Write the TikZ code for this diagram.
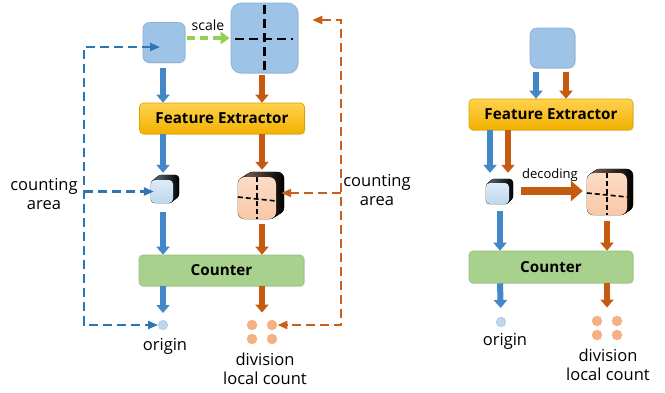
\documentclass[tikz,border=0pt]{standalone}
\usepackage{fontspec}
\setmainfont{Open Sans}
\usetikzlibrary{arrows.meta,calc,shadows}
\pgfdeclarelayer{background}
\pgfsetlayers{background,main}
\definecolor{sqblue}{HTML}{9DC3E6}
\definecolor{sqborder}{HTML}{8AAFD6}
\definecolor{arrblue}{HTML}{4287C8}
\definecolor{arrorange}{HTML}{C55A11}
\definecolor{dashblue}{HTML}{2E75B6}
\definecolor{dashorange}{HTML}{C9601A}
\definecolor{dashgreen}{HTML}{92D050}
\definecolor{feTop}{HTML}{FFD24D}
\definecolor{feBot}{HTML}{F2B100}
\definecolor{feBorder}{HTML}{D9A300}
\definecolor{cntFill}{HTML}{A9D18E}
\definecolor{cntBorder}{HTML}{93BF76}
\definecolor{cubeBlueTop}{HTML}{DEEBF7}
\definecolor{cubeBlue}{HTML}{BDD7EE}
\definecolor{peachTop}{HTML}{FBDCC6}
\definecolor{peach}{HTML}{F8C8A6}
\definecolor{dotBlue}{HTML}{BDD7EE}
\definecolor{dotOrange}{HTML}{F4B183}
\newcommand{\extrude}[5]{% node, dx, dy, radius, side colour
  \begin{pgfonlayer}{background}
  \foreach \k in {0,0.1,...,1.01} {
    \fill[rounded corners=#4, left color=#5!45!black, right color=black]
      ($(#1.south west)+(\k*#2,\k*#3)$) rectangle ($(#1.north east)+(\k*#2,\k*#3)$);
  }
  \end{pgfonlayer}}
\begin{document}
\begin{tikzpicture}[x=1pt,y=-1pt,
  txt/.style={font=\fontsize{16.5}{18.5}\selectfont, inner sep=0pt, align=center},
  smalltxt/.style={font=\fontsize{13}{15}\selectfont, inner sep=0pt},
  sqbox/.style={draw=sqborder, fill=sqblue, line width=0.6pt, inner sep=0pt,
    drop shadow={opacity=0.2, shadow xshift=0.8pt, shadow yshift=-1.2pt}},
  bigbox/.style={rounded corners=4pt, inner sep=0pt, minimum width=165pt, minimum height=31pt,
    font=\fontsize{15.2}{18}\selectfont\bfseries, line width=0.6pt,
    drop shadow={opacity=0.2, shadow xshift=0.8pt, shadow yshift=-1.2pt}},
  febox/.style={bigbox, draw=feBorder, top color=feTop, bottom color=feBot},
  cntbox/.style={bigbox, draw=cntBorder, fill=cntFill},
  cubeblue/.style={draw=none, top color=cubeBlueTop, bottom color=cubeBlue, inner sep=0pt, rounded corners=4pt},
  cubepeach/.style={draw=none, top color=peachTop, bottom color=peach, inner sep=0pt, rounded corners=7pt},
  cross/.style={draw=black, line width=2.2pt, dash pattern=on 9pt off 5pt},
  smallcross/.style={draw=black, line width=1.6pt, dash pattern=on 5pt off 3pt},
  bdot/.style={circle, fill=dotBlue, draw=sqblue, line width=0.5pt, minimum size=9.5pt, inner sep=0pt},
  odot/.style={circle, fill=dotOrange, draw=none, minimum size=10.5pt, inner sep=0pt},
  barrow/.style={draw=arrblue, line width=6pt, -{Triangle[length=8pt,width=13pt]}},
  oarrow/.style={draw=arrorange, line width=6pt, -{Triangle[length=8pt,width=13pt]}},
  dtip/.tip={Triangle[length=10pt,width=8pt]},
  bdash/.style={draw=dashblue, line width=2.2pt, dash pattern=on 9pt off 5pt},
  odash/.style={draw=dashorange, line width=2.2pt, dash pattern=on 9pt off 5pt},
]
\useasboundingbox (0,0) rectangle (665,392);

% ---------------- left diagram ----------------
\node[sqbox, rounded corners=6pt, minimum width=42pt, minimum height=40pt] (sq1) at (164,42.5) {};
\node[sqbox, rounded corners=10pt, minimum width=67pt, minimum height=70pt] (sq2) at (264.5,38) {};
\draw[cross, shorten <=2pt, shorten >=0pt] (sq2.north) -- (sq2.south);
\draw[cross, shorten <=4pt, shorten >=5pt] ($(sq2.west)+(0,1)$) -- ($(sq2.east)+(0,1)$);

\node[febox] (fe1) at (222,118.5) {Feature Extractor};

\node[cubeblue, minimum width=22pt, minimum height=23pt] (c1) at (162,191.5) {};
\extrude{c1}{6}{-5}{4pt}{cubeBlue}
\node[cubepeach, minimum width=38pt, minimum height=42pt] (c2) at (257,198) {};
\extrude{c2}{8}{-5}{7pt}{peach}
\draw[smallcross] (c2.north) -- (c2.south);
\draw[smallcross] ($(c2.west)+(0,-1)$) -- ($(c2.east)+(0,3)$);

\node[cntbox] (cnt1) at (221.5,270.5) {Counter};

\node[bdot] (o1) at (163,325) {};
\node[odot] (d1) at (252,325) {};
\node[odot] (d2) at (272,325) {};
\node[odot] (d3) at (252,339) {};
\node[odot] (d4) at (272,339) {};

\node[txt] (t1) at (165,346) {origin};
\node[txt] (t2) at (265,369) {division\\local count};
\node[txt] (t3) at (44,194) {counting\\area};
\node[txt] (t4) at (377,190) {counting\\area};

\coordinate (colB) at (163,0);
\coordinate (colO) at (262,0);
\draw[barrow, shorten <=5pt] (sq1.south -| colB) -- (fe1.north -| colB);
\draw[oarrow, shorten <=2pt] (sq2.south -| colO) -- (fe1.north -| colO);
\draw[barrow, shorten >=7pt] (fe1.south -| colB) -- (c1.north -| colB);
\draw[oarrow, shorten >=7pt] (fe1.south -| colO) -- (c2.north -| colO);
\draw[barrow, shorten <=9pt] (c1.south -| colB) -- (cnt1.north -| colB);
\draw[oarrow, shorten <=5pt] (c2.south -| colO) -- (cnt1.north -| colO);
\draw[barrow, shorten >=7pt] (cnt1.south -| colB) -- (o1.north);
\draw[oarrow, shorten >=7pt] (cnt1.south -| colO) -- (d1.north -| colO);

% scale arrow
\draw[draw=dashgreen, line width=3.8pt, dash pattern=on 8pt off 5pt, -{Triangle[length=9pt,width=12pt]},
  shorten <=2pt, shorten >=1pt] (sq1.east |- sq2.center) -- (sq2.west);
\node[smalltxt, font=\fontsize{14}{16}\selectfont] (sc) at (208,25) {scale};

% dashed feedback lines
\coordinate (cbl1) at (84,47);
\coordinate (cbl2) at (84,325);
\draw[bdash, dtip-dtip, shorten <=4pt] (cbl1 -| sq1.center) -- (cbl1) -- (cbl2) -- (o1.west);
\draw[bdash, -dtip, shorten >=-3pt] (cbl1 |- c1.west) -- (c1.west);
\coordinate (cor1) at (341,20);
\coordinate (cor2) at (341,325);
\draw[odash, dtip-dtip, shorten <=14pt] (cor1 -| sq2.east) -- (cor1) -- (cor2) -- (d2.east);
\draw[odash, -dtip, shorten >=5pt] (cor1 |- 0,193) -- (c2.east |- 0,193);

% ---------------- right diagram ----------------
\node[sqbox, rounded corners=7pt, minimum width=45pt, minimum height=40pt] (sq3) at (552.5,48) {};
\node[febox, minimum width=164pt] (fe2) at (551,114.5) {Feature Extractor};
\node[cubeblue, minimum width=23pt, minimum height=21pt] (c3) at (497.5,193.5) {};
\extrude{c3}{4}{-4}{4pt}{cubeBlue}
\node[cubepeach, minimum width=40pt, minimum height=42pt] (c4) at (607,194) {};
\extrude{c4}{6}{-4}{7pt}{peach}
\draw[smallcross] (c4.north) -- (c4.south);
\draw[smallcross] ($(c4.west)+(0,-1)$) -- ($(c4.east)+(0,3)$);
\node[cntbox, minimum width=164pt, minimum height=32pt] (cnt2) at (551,267) {Counter};
\node[bdot] (o2) at (501,322) {};
\node[odot] (e1) at (597,321) {};
\node[odot] (e2) at (617,321) {};
\node[odot] (e3) at (597,335) {};
\node[odot] (e4) at (617,335) {};
\node[txt] (t5) at (505,341) {origin};
\node[txt] (t6) at (608,365) {division\\local count};

\coordinate (colB2) at (536,0);
\coordinate (colO2) at (566,0);
\coordinate (colB3) at (490,0);
\coordinate (colO3) at (508,0);
\coordinate (colB4) at (500,0);
\coordinate (colO4) at (607,0);
\draw[barrow, shorten <=4pt] (sq3.south -| colB2) -- (fe2.north -| colB2);
\draw[oarrow, shorten <=4pt] (sq3.south -| colO2) -- (fe2.north -| colO2);
\draw[barrow, shorten >=10pt] (fe2.south -| colB3) -- (c3.north -| colB3);
\draw[oarrow, shorten >=10pt] (fe2.south -| colO3) -- (c3.north -| colO3);
\draw[barrow, shorten <=7pt] (c3.south -| colB4) -- (cnt2.north -| colB4);
\draw[oarrow, shorten <=6pt] (c4.south -| colO4) -- (cnt2.north -| colO4);
\draw[barrow, shorten >=9pt] (cnt2.south -| colB4) -- (o2.north);
\draw[oarrow, shorten >=8pt] (cnt2.south -| colO4) -- (e1.north -| colO4);
\draw[draw=arrorange, line width=8pt, -{Triangle[length=12pt,width=20pt]}, shorten <=12pt, shorten >=4pt]
  (c3.east |- 0,191) -- (c4.west |- 0,191);
\node[smalltxt] (dc) at (550,175) {decoding};
\end{tikzpicture}
\end{document}
